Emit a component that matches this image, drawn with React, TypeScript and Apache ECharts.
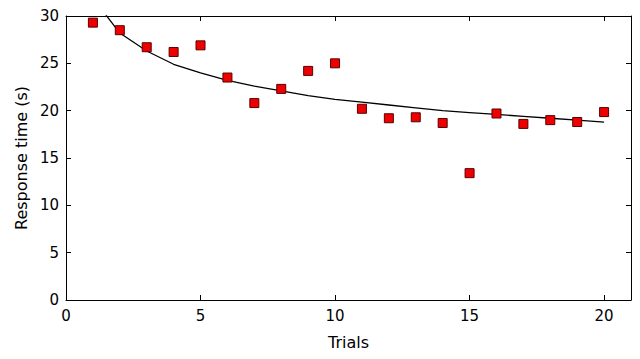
import React, { useEffect, useRef } from "react";
import * as echarts from "echarts";

const trials = [1, 2, 3, 4, 5, 6, 7, 8, 9, 10, 11, 12, 13, 14, 15, 16, 17, 18, 19, 20];
const responseTimes = [29.3, 28.5, 26.7, 26.2, 26.9, 23.5, 20.8, 22.3, 24.2, 25.0, 20.2, 19.2, 19.3, 18.7, 13.4, 19.7, 18.6, 19.0, 18.8, 19.85];
const fitValues = [31.9, 28.2, 26.3, 24.9, 24.0, 23.2, 22.6, 22.1, 21.6, 21.2, 20.9, 20.6, 20.3, 20.0, 19.8, 19.6, 19.4, 19.2, 19.0, 18.8];
const xTicks = [0, 5, 10, 15, 20];

const FONT = "DejaVu Sans";

export default function App() {
  const ref = useRef<HTMLDivElement>(null);
  useEffect(() => {
    if (!ref.current) return;
    const chart = echarts.init(ref.current, null, { renderer: "svg" });
    const axisCommon = {
      axisLine: { show: true, onZero: false, lineStyle: { color: "#000", width: 1 } },
      axisTick: { show: true, inside: true, length: 5, lineStyle: { color: "#000" } },
      splitLine: { show: false },
    };
    chart.setOption({
      animation: false,
      backgroundColor: "#fff",
      grid: { left: 66, right: 9, top: 16, bottom: 59, containLabel: false },
      xAxis: [
        {
          type: "value",
          min: 0,
          max: 21,
          interval: 5,
          position: "bottom",
          name: "Trials",
          nameLocation: "middle",
          nameGap: 34,
          nameTextStyle: { fontFamily: FONT, fontSize: 16, color: "#000" },
          ...axisCommon,
          axisLabel: {
            fontFamily: FONT,
            fontSize: 15,
            color: "#000",
            margin: 8,
            showMaxLabel: false,
            formatter: (v: number) => (xTicks.includes(v) ? String(v) : ""),
          },
        },
        {
          type: "value",
          min: 0,
          max: 21,
          interval: 5,
          position: "top",
          ...axisCommon,
          axisLabel: { show: false },
        },
      ],
      yAxis: [
        {
          type: "value",
          min: 0,
          max: 30,
          interval: 5,
          position: "left",
          name: "Response time (s)",
          nameLocation: "middle",
          nameGap: 37,
          nameTextStyle: { fontFamily: FONT, fontSize: 16, color: "#000" },
          ...axisCommon,
          axisLabel: { fontFamily: FONT, fontSize: 15, color: "#000", margin: 7 },
        },
        {
          type: "value",
          min: 0,
          max: 30,
          interval: 5,
          position: "right",
          ...axisCommon,
          axisLabel: { show: false },
        },
      ],
      series: [
        {
          type: "line",
          data: trials.map((t, i) => [t, fitValues[i]]),
          showSymbol: false,
          symbol: "none",
          clip: true,
          lineStyle: { color: "#000", width: 1.3 },
          z: 2,
        },
        {
          type: "scatter",
          data: trials.map((t, i) => [t, responseTimes[i]]),
          symbol: "rect",
          symbolSize: 9,
          itemStyle: { color: "#ee0000", borderColor: "#5a0000", borderWidth: 1, opacity: 1 },
          z: 3,
        },
      ],
    });
    return () => chart.dispose();
  }, []);
  return <div ref={ref} style={{ width: 640, height: 359, position: "absolute", left: 0, top: 0 }} />;
}
